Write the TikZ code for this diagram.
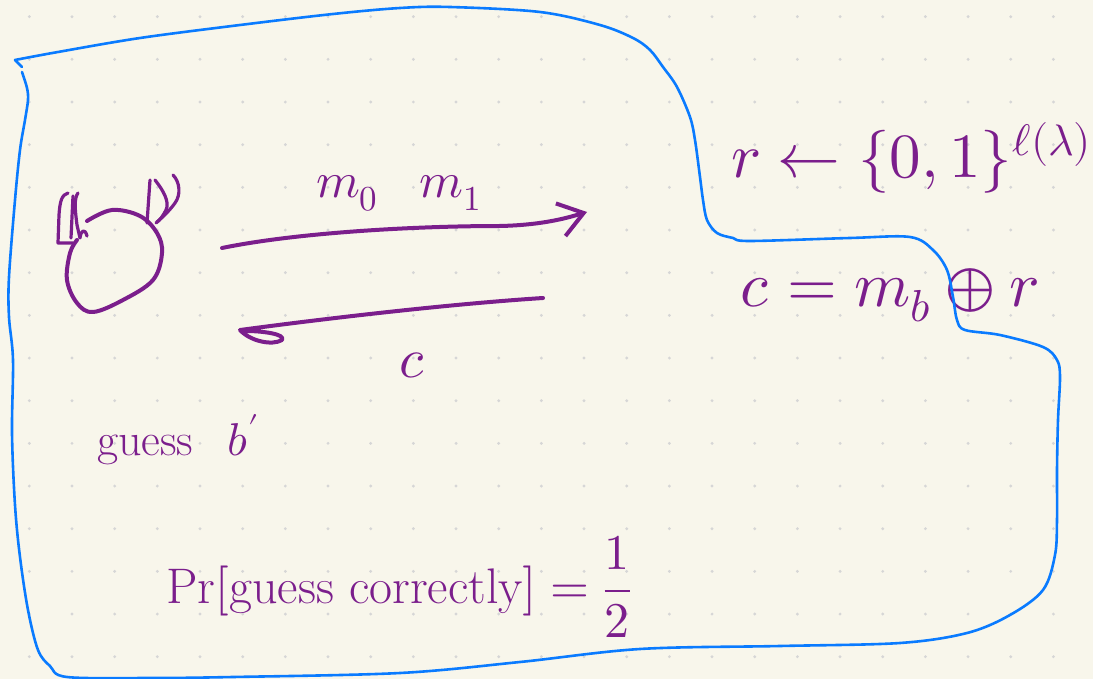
\documentclass[tikz,border=0pt]{standalone}
\usepackage{amsmath}
\usepackage{unicode-math}
\setmathfont{Latin Modern Math}
\usetikzlibrary{arrows.meta}
\definecolor{paper}{HTML}{F8F6EB}
\definecolor{ink}{HTML}{7B1E8C}
\definecolor{outline}{HTML}{0A7BFF}
\definecolor{griddot}{HTML}{D6D6D6}
\tikzset{
  pen/.style={draw=ink, line width=4pt, line cap=round, line join=round},
  thinpen/.style={draw=ink, line width=3.2pt, line cap=round, line join=round},
  bluepen/.style={draw=outline, line width=2.6pt, line cap=round, line join=round},
  hand/.style={text=ink, inner sep=0pt, outer sep=0pt},
}
\begin{document}
\begin{tikzpicture}[x=1pt,y=-1pt]
\fill[paper] (0,0) rectangle (1093,679);
\useasboundingbox (0,0) rectangle (1093,679);
% dot grid
\foreach \i in {0,...,24}
  \foreach \j in {0,...,15}
    \fill[griddot] (29.33+42.67*\i, 16.67+42.67*\j) circle (1.6);

% adversary figure
\draw[pen] plot[smooth, tension=0.6] coordinates {(87,221) (112,210) (140,216) (157,233) (162,253) (153,280) (123,300) (93,312) (77,303) (67,280) (70,253) (77,240)};
\draw[thinpen] (68,193) .. controls (62,195) and (60,200) .. (59,215) -- (58,243) -- (73,243);
\draw[thinpen] (73,196) -- (71,238);
\draw[thinpen] (78,193) .. controls (74,198) and (75,210) .. (77,225) -- (80,238) .. controls (81,230) and (85,228) .. (87,236);
\draw[thinpen] (150,180) -- (147,223);
\draw[thinpen] (155,180) .. controls (163,190) and (170,202) .. (166,210) .. controls (163,216) and (160,220) .. (156,223);
\draw[thinpen] (173,175) .. controls (180,182) and (181,195) .. (175,203) .. controls (170,210) and (164,216) .. (157,222);

% messages
\coordinate (ms) at (222,248);
\coordinate (me) at (587,212);
\draw[pen, -{Straight Barb[length=24pt,width=34pt]}] (ms) .. controls (300,232) and (420,226) .. (500,226) .. controls (545,225) and (570,217) .. (me);
\coordinate (cs) at (543,298);
\coordinate (ce) at (240,330);
\draw[pen] (cs) .. controls (450,304) and (330,318) .. (ce) .. controls (250,341) and (272,346) .. (282,340) .. controls (286,334) and (262,331) .. (246,331);

% texts
\node[hand, anchor=base west, font=\fontsize{50}{54}\selectfont] (msg) at (316,198) {$m_0\;\;\; m_1$};
\node[hand, anchor=base, font=\fontsize{56}{60}\selectfont] (ct) at (412,377) {$c$};
\node[hand, anchor=base west, font=\fontsize{46}{50}\selectfont] (guess) at (97,455) {guess\hspace{0.75em}$b'$};
\node[hand, anchor=base west, font=\fontsize{50}{54}\selectfont] (pr) at (166,603) {$\Pr[\text{guess correctly}] = \displaystyle\frac{1}{2}$};
\node[hand, anchor=base west, font=\fontsize{63}{67}\selectfont] (rdef) at (731,178) {$r \leftarrow \{0,1\}^{\ell(\lambda)}$};
\node[hand, anchor=base west, font=\fontsize{64}{68}\selectfont] (cdef) at (740,306) {$c = m_b \oplus r$};

% outline
\draw[bluepen] plot[smooth, tension=0.55] coordinates {
 (22,72) (27,88) (28,100) (25,120) (20,150) (15,200) (9,277) (9,317) (13,360) (12,433) (15,505) (20,557) (28,610) (38,650) (50,666) (67,677)
 (150,678) (233,677) (400,673) (520,662) (640,649) (780,646) (900,643)
 (967,633) (1010,615) (1043,590) (1055,555) (1057,520) (1057,470) (1058,420)
 (1060,377) (1057,360) (1043,347) (1000,335) (965,330) (957,320) (953,297) (947,270) (933,250) (910,237) (850,238) (750,241) (733,238) (717,233) (707,220) (703,200) (700,177) (695,140) (690,117) (677,87) (663,67) (650,50) (633,38) (600,25) (540,12) (450,7) (400,8) (333,14) (240,25) (140,38) (58,52) (15,60)} -- (22,67);
\end{tikzpicture}
\end{document}
